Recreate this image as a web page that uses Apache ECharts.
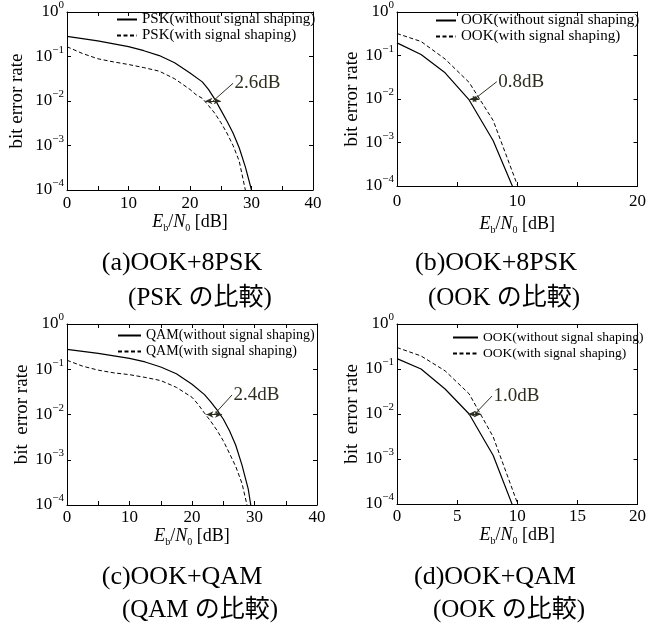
<!DOCTYPE html>
<html>
<head>
<meta charset="utf-8">
<script src="https://cdn.jsdelivr.net/npm/echarts@6/dist/echarts.min.js"></script>
<style>
html, body { margin: 0; padding: 0; background: #fff; }
#main { width: 649px; height: 624px; }
</style>
</head>
<body>
<div id="main"></div>
<script>
var FONT = '"Liberation Serif", "Times New Roman", "Noto Sans CJK JP", serif';
var ANN = '#2e2e20';

// (a) OOK+8PSK, PSK
var aX1 = [0, 5, 10, 12.5, 15, 17.5, 20, 22, 23, 24, 25, 26, 27, 28, 29, 30];
var aBer1 = [0.282, 0.224, 0.166, 0.135, 0.105, 0.0724, 0.0427, 0.0269, 0.0182, 0.0112,
    0.00631, 0.00355, 0.00191, 0.00089, 0.00033, 0.0001];
var aX2 = [0, 2.5, 5, 7.5, 10, 12.5, 15, 17.5, 20, 21, 22, 23, 24, 25, 26, 27, 28, 29];
var aBer2 = [0.166, 0.117, 0.0891, 0.0759, 0.0661, 0.0562, 0.0468, 0.0316, 0.0182, 0.0138,
    0.0115, 0.00794, 0.00537, 0.00331, 0.00191, 0.001, 0.000447, 0.0001];

// (b) OOK+8PSK, OOK
var bX = [0, 2, 4, 6, 8, 10];
var bBer1 = [0.195, 0.105, 0.040, 0.0095, 0.0011, 0.000054];
var bBer2 = [0.32, 0.21, 0.083, 0.024, 0.0032, 0.000107];

// (c) OOK+QAM, QAM
var cX1 = [0, 5, 10, 12.5, 15, 17.5, 20, 22, 23, 24, 25, 26, 27, 28, 29, 29.4];
var cBer1 = [0.275, 0.224, 0.174, 0.145, 0.112, 0.0794, 0.0468, 0.0275, 0.0191, 0.0126,
    0.00794, 0.00437, 0.00209, 0.00076, 0.000224, 0.0001];
var cX2 = [0, 2.5, 5, 7.5, 10, 12.5, 15, 17.5, 20, 21, 22, 23, 24, 25, 26, 27, 28, 28.8];
var cBer2 = [0.158, 0.117, 0.0955, 0.0832, 0.0759, 0.0661, 0.0562, 0.0398, 0.024, 0.0166,
    0.0107, 0.00708, 0.00447, 0.00263, 0.00138, 0.000708, 0.0003, 0.0001];

// (d) OOK+QAM, OOK
var dX = [0, 2, 4, 6, 8, 10];
var dBer1 = [0.17, 0.1, 0.036, 0.01, 0.0012, 0.00005];
var dBer2 = [0.30, 0.195, 0.091, 0.028, 0.0031, 0.000107];

// gap annotations at BER 1e-2
var gapLabels = ['2.6dB', '0.8dB', '2.4dB', '1.0dB'];
var gapFrom = [22.5, 6.05, 22.3, 5.95];
var gapTo = [25.0, 6.85, 24.8, 7.0];
var gapTipX = [27.0, 8.3, 26.4, 7.9];
var gapTipY = [0.025, 0.025, 0.027, 0.025];

var legendNames = [
    ['PSK(without signal shaping)', 'PSK(with signal shaping)'],
    ['OOK(without signal shaping)', 'OOK(with signal shaping)'],
    ['QAM(without signal shaping)', 'QAM(with signal shaping)'],
    ['OOK(without signal shaping)', 'OOK(with signal shaping)']
];
var xMax = [40, 20, 40, 20];
var xLabelStep = [10, 10, 10, 5];
var yNames = ['bit error rate', 'bit error rate', 'bit  error rate', 'bit  error rate'];
var captionLine1 = ['(a)OOK+8PSK', '(b)OOK+8PSK', '(c)OOK+QAM', '(d)OOK+QAM'];
var captionLine2 = ['(PSK の比較)', '(OOK の比較)', '(QAM の比較)', '(OOK の比較)'];

// layout
var grids = [
    {left: 67, top: 12, width: 246, height: 178},
    {left: 397, top: 12, width: 241, height: 174},
    {left: 67, top: 324, width: 250, height: 181},
    {left: 397, top: 324, width: 247, height: 180}
];
var xNameGap = [20, 27, 20, 18];
var xLabelMargin = [5, 7, 4, 4];
var yNameGap = [40, 34, 29, 35];
var legendPos = [
    {left: 116, top: 12, w: 20, fs: 15},
    {left: 435, top: 13, w: 20, fs: 15},
    {left: 117, top: 328, w: 23, fs: 14},
    {left: 452, top: 330, w: 25, fs: 13.5}
];
var captionPos = [
    [182, 263, 200, 298],
    [496, 263, 504, 298],
    [182, 577, 200, 610],
    [495, 577, 509, 610]
];

var lines = [
    [aX1, aBer1, aX2, aBer2],
    [bX, bBer1, bX, bBer2],
    [cX1, cBer1, cX2, cBer2],
    [dX, dBer1, dX, dBer2]
];

function pairs(xs, ys) {
    return xs.map(function (x, i) { return [x, ys[i]]; });
}

function powLabel(v) {
    var e = Math.round(Math.log(v) / Math.LN10);
    return '{b|10}{s|' + (e < 0 ? '\u2212' + (-e) : e) + '}';
}

var blackLine = {show: true, onZero: false, lineStyle: {color: '#000', width: 1}};
var tick = {show: true, inside: true, length: 4, lineStyle: {color: '#000'}};

var xAxes = [], yAxes = [], series = [], legends = [], graphics = [];

for (var i = 0; i < 4; i++) {
    (function (i) {
        var step = xLabelStep[i];
        xAxes.push({
            type: 'value', gridIndex: i, min: 0, max: xMax[i], interval: 5,
            axisLine: blackLine, axisTick: tick, splitLine: {show: false},
            axisLabel: {
                margin: xLabelMargin[i], color: '#000', fontFamily: FONT, fontSize: 17,
                formatter: function (v) { return v % step === 0 ? String(v) : ''; }
            },
            name: '{i|E}{s|b}{t|/}{i|N}{s|0}{t| [dB]}',
            nameLocation: 'middle', nameGap: xNameGap[i],
            nameTextStyle: {
                rich: {
                    i: {fontFamily: FONT, fontStyle: 'italic', fontSize: 18, lineHeight: 22, color: '#000'},
                    t: {fontFamily: FONT, fontSize: 18, lineHeight: 22, color: '#000'},
                    s: {fontFamily: FONT, fontSize: 10, lineHeight: 10, verticalAlign: 'bottom', color: '#000'}
                }
            }
        });
        yAxes.push({
            type: 'log', logBase: 10, gridIndex: i, min: 0.0001, max: 1, splitNumber: 4,
            axisLine: blackLine, axisTick: tick, splitLine: {show: false},
            axisLabel: {
                margin: 3, formatter: powLabel,
                rich: {
                    b: {fontFamily: FONT, fontSize: 17, lineHeight: 24, color: '#000'},
                    s: {fontFamily: FONT, fontSize: 11, lineHeight: 11, verticalAlign: 'top', color: '#000'}
                }
            },
            name: yNames[i], nameLocation: 'middle', nameGap: yNameGap[i],
            nameTextStyle: {fontFamily: FONT, fontSize: 19, color: '#000'}
        });

        var d = lines[i];
        var mid = (gapFrom[i] + gapTo[i]) / 2;
        series.push({
            name: legendNames[i][0], type: 'line', xAxisIndex: i, yAxisIndex: i,
            data: pairs(d[0], d[1]), symbol: 'none', silent: true,
            lineStyle: {color: '#000', width: 1.2}, itemStyle: {color: '#000'},
            markLine: {
                silent: true, animation: false, symbolSize: [5, 7],
                lineStyle: {type: 'solid', color: ANN, width: 1},
                label: {show: false},
                data: [
                    [{coord: [gapFrom[i], 0.01], symbol: 'arrow'}, {coord: [gapTo[i], 0.01], symbol: 'arrow'}],
                    [{coord: [mid, 0.01], symbol: 'none'}, {coord: [gapTipX[i], gapTipY[i]], symbol: 'none'}]
                ]
            },
            markPoint: {
                silent: true, animation: false,
                data: [{
                    coord: [gapTipX[i], gapTipY[i]], symbol: 'circle', symbolSize: 1,
                    itemStyle: {color: 'rgba(0,0,0,0)'},
                    label: {
                        show: true, position: 'right', distance: 1, formatter: gapLabels[i],
                        color: ANN, fontFamily: FONT, fontSize: 19
                    }
                }]
            }
        });
        series.push({
            name: legendNames[i][1], type: 'line', xAxisIndex: i, yAxisIndex: i,
            data: pairs(d[2], d[3]), symbol: 'none', silent: true,
            lineStyle: {color: '#000', width: 1, type: [4, 2.5]}, itemStyle: {color: '#000'}
        });

        legends.push({
            data: legendNames[i], orient: 'vertical', left: legendPos[i].left, top: legendPos[i].top,
            itemWidth: legendPos[i].w, itemHeight: 14, itemGap: 1, padding: 0,
            selectedMode: false,
            itemStyle: {opacity: 0, borderWidth: 0},
            textStyle: {fontFamily: FONT, fontSize: legendPos[i].fs, lineHeight: 15, color: '#000'}
        });

        var p = captionPos[i];
        graphics.push({
            type: 'text', x: p[0], y: p[1],
            style: {text: captionLine1[i], fontFamily: FONT, fontSize: 26, fill: '#000',
                textAlign: 'center', textVerticalAlign: 'middle', align: 'center', verticalAlign: 'middle'}
        });
        graphics.push({
            type: 'text', x: p[2], y: p[3],
            style: {text: captionLine2[i], fontFamily: FONT, fontSize: 25, fill: '#000',
                textAlign: 'center', textVerticalAlign: 'middle', align: 'center', verticalAlign: 'middle'}
        });
    })(i);
}

// box sides: top and right axes with inner ticks only
for (var j = 0; j < 4; j++) {
    xAxes.push({
        type: 'value', gridIndex: j, position: 'top', min: 0, max: xMax[j], interval: 5,
        axisLine: blackLine, axisTick: tick, axisLabel: {show: false}, splitLine: {show: false}
    });
    yAxes.push({
        type: 'log', logBase: 10, gridIndex: j, position: 'right', min: 0.0001, max: 1, splitNumber: 4,
        axisLine: blackLine, axisTick: tick, axisLabel: {show: false}, splitLine: {show: false}
    });
}

var chart = echarts.init(document.getElementById('main'));
chart.setOption({
    animation: false,
    backgroundColor: '#fff',
    grid: grids,
    xAxis: xAxes,
    yAxis: yAxes,
    legend: legends,
    series: series,
    graphic: graphics
});
</script>
</body>
</html>
